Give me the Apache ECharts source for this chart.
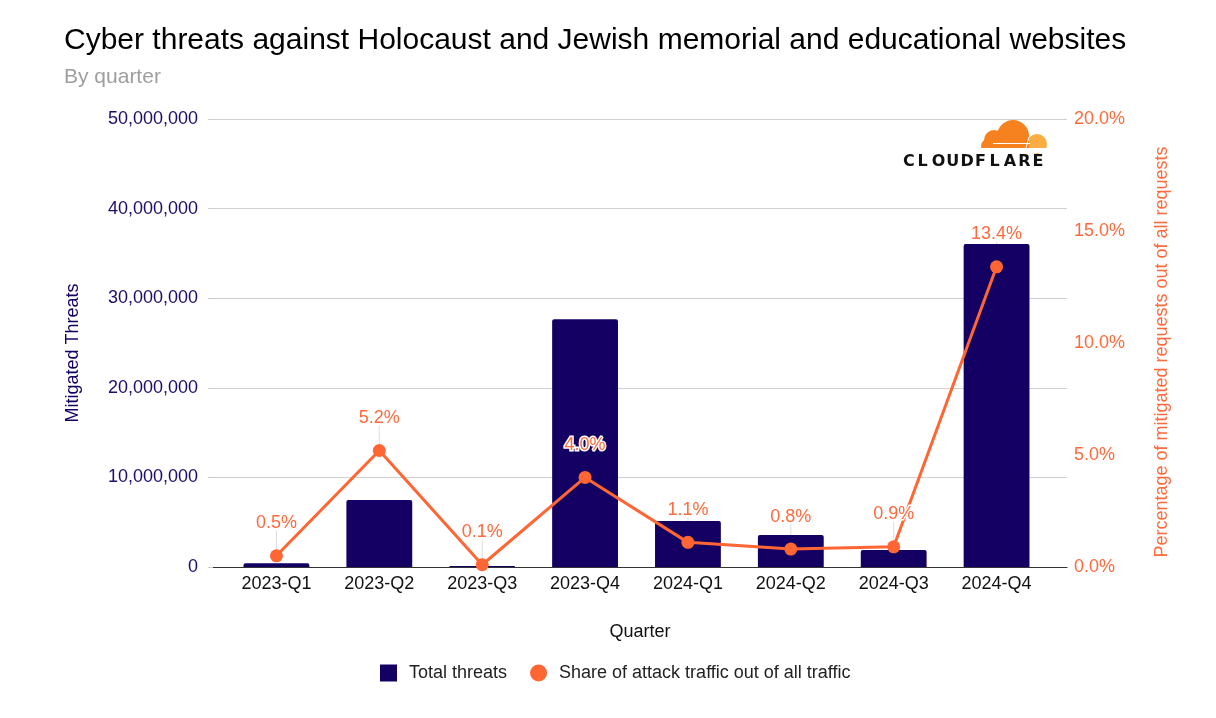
<!DOCTYPE html>
<html><head><meta charset="utf-8">
<script src="https://cdn.jsdelivr.net/npm/echarts@6/dist/echarts.min.js"></script>
<style>html,body{margin:0;padding:0;background:#fff}#c{width:1216px;height:718px}</style>
</head><body><div id="c"></div>
<script>
const categories = ['2023-Q1','2023-Q2','2023-Q3','2023-Q4','2024-Q1','2024-Q2','2024-Q3','2024-Q4'];
const totalThreats = [420000, 7480000, 100000, 27650000, 5130000, 3580000, 1900000, 36050000];
const sharePct = [0.5, 5.2, 0.1, 4.0, 1.1, 0.8, 0.9, 13.4];
const leftTicks = {min: 0, max: 50000000, interval: 10000000};
const rightTicks = {min: 0, max: 20, interval: 5};

const FONT = '"Liberation Sans", Arial, sans-serif';
const NAVY = '#140063';
const ORANGE = '#ff6633';
const ORANGE_TXT = '#ff6a3d';

const guideData = categories.map((c, i) => [i, sharePct[i]]);

const logoLetters = 'CLOUDFLARE'.split('');
const logoGraphics = [
  {type:'circle', shape:{cx:1037, cy:144, r:10}, style:{fill:'#fbad41'}},
  {type:'circle', shape:{cx:1013, cy:136, r:16}, style:{fill:'#f6821f'}},
  {type:'circle', shape:{cx:994, cy:140, r:10}, style:{fill:'#f6821f'}},
  {type:'circle', shape:{cx:988, cy:146, r:7}, style:{fill:'#f6821f'}},
  {type:'rect', shape:{x:988, y:138, width:41, height:10}, style:{fill:'#f6821f'}},
  {type:'rect', shape:{x:970, y:148, width:85, height:5}, style:{fill:'#fff'}},
  {type:'line', shape:{x1:993,y1:143.5,x2:1030,y2:143.5}, style:{stroke:'#fff', lineWidth:1}},
  {type:'line', shape:{x1:1029,y1:137,x2:1026,y2:148}, style:{stroke:'#fff', lineWidth:1}}
];
logoLetters.forEach((ch, i) => {
  logoGraphics.push({type:'text', left: 903 + i*14.4, top: 154, style:{text: ch, font: 'bold 16px "DejaVu Sans", sans-serif', fill:'#111'}});
});

const chart = echarts.init(document.getElementById('c'));
chart.setOption({
  animation: false,
  backgroundColor: '#fff',
  title: [
    {text: 'Cyber threats against Holocaust and Jewish memorial and educational websites', left: 59, top: 21,
     textStyle:{fontFamily: FONT, fontSize: 30, fontWeight: 'normal', color:'#000'}},
    {text: 'By quarter', left: 59, top: 62,
     textStyle:{fontFamily: FONT, fontSize: 21, fontWeight: 'normal', color:'#9e9e9e'}}
  ],
  grid: [
    {left: 213, right: 149, top: 119, bottom: 151, containLabel: false},
    {left: 225, right: 168, top: 119, bottom: 151, containLabel: false}
  ],
  legend: {
    bottom: 31, left: 375, itemWidth: 17, itemHeight: 17, itemGap: 23,
    textStyle: {fontFamily: FONT, fontSize: 18, color: '#222', padding:[0,0,0,7]},
    data: [{name:'Total threats', icon:'rect'}, {name:'Share of attack traffic out of all traffic', icon:'circle'}]
  },
  xAxis: [
    {
      gridIndex: 0, type: 'category', data: categories,
      name: 'Quarter', nameLocation: 'middle', nameGap: 56,
      nameTextStyle: {fontFamily: FONT, fontSize: 18, color: '#111'},
      axisLine: {show: true, lineStyle: {color: '#333', width: 1}},
      axisTick: {show: false}, axisLabel: {show: false}
    },
    {
      gridIndex: 1, type: 'category', data: categories,
      axisLine: {show: false}, axisTick: {show: false},
      axisLabel: {fontFamily: FONT, fontSize: 18, color: '#111', margin: 8}
    }
  ],
  yAxis: [
    {
      gridIndex: 0, type: 'value', min: leftTicks.min, max: leftTicks.max, interval: leftTicks.interval,
      name: 'Mitigated Threats', nameLocation: 'middle', nameGap: 131, nameRotate: 90,
      nameTextStyle: {fontFamily: FONT, fontSize: 18, color: NAVY, padding: [0, 20, 0, 0]},
      axisLine: {show: false},
      axisTick: {show: true, length: 5, lineStyle: {color: '#ccc'}},
      splitLine: {lineStyle: {color: '#d0d0d0'}},
      axisLabel: {fontFamily: FONT, fontSize: 18, color: '#1b0f6b', margin: 15,
        formatter: v => v.toLocaleString('en-US')}
    },
    {
      gridIndex: 0, type: 'value', min: rightTicks.min, max: rightTicks.max, interval: rightTicks.interval,
      name: 'Percentage of mitigated requests out of all requests', nameLocation: 'middle', nameGap: 86, nameRotate: 90,
      nameTextStyle: {fontFamily: FONT, fontSize: 18, color: ORANGE_TXT, padding: [0, 18, 0, 0]},
      axisLine: {show: false}, axisTick: {show: false}, splitLine: {show: false},
      axisLabel: {fontFamily: FONT, fontSize: 18, color: ORANGE_TXT, margin: 7,
        formatter: v => v.toFixed(1) + '%'}
    },
    {
      gridIndex: 1, type: 'value', min: leftTicks.min, max: leftTicks.max, interval: leftTicks.interval,
      show: false, splitLine: {show: false}
    },
    {
      gridIndex: 1, type: 'value', position: 'right', min: rightTicks.min, max: rightTicks.max, interval: rightTicks.interval,
      show: false, splitLine: {show: false}
    }
  ],
  series: [
    {
      name: 'Total threats', type: 'bar', data: totalThreats, xAxisIndex: 1, yAxisIndex: 2,
      barWidth: '64%', itemStyle: {color: NAVY, borderRadius: [2,2,0,0]}
    },
    {
      name: 'guide', type: 'custom', xAxisIndex: 1, yAxisIndex: 3, data: guideData, z: 2, silent: true,
      renderItem: (params, api) => {
        const p = api.coord([api.value(0), api.value(1)]);
        return {type: 'line', shape: {x1: p[0], y1: p[1], x2: p[0], y2: p[1] - 25},
                style: {stroke: '#dddddd', lineWidth: 1}};
      }
    },
    {
      name: 'Share of attack traffic out of all traffic', type: 'line', data: sharePct, xAxisIndex: 1, yAxisIndex: 3,
      symbol: 'circle', symbolSize: 13, lineStyle: {color: ORANGE, width: 3}, itemStyle: {color: ORANGE},
      label: {show: true, position: 'top', distance: 17, fontFamily: FONT, fontSize: 18, color: ORANGE_TXT,
        textBorderColor: '#fff', textBorderWidth: 3, formatter: p => p.value.toFixed(1) + '%'},
      z: 3
    }
  ],
  graphic: logoGraphics
});
</script></body></html>
